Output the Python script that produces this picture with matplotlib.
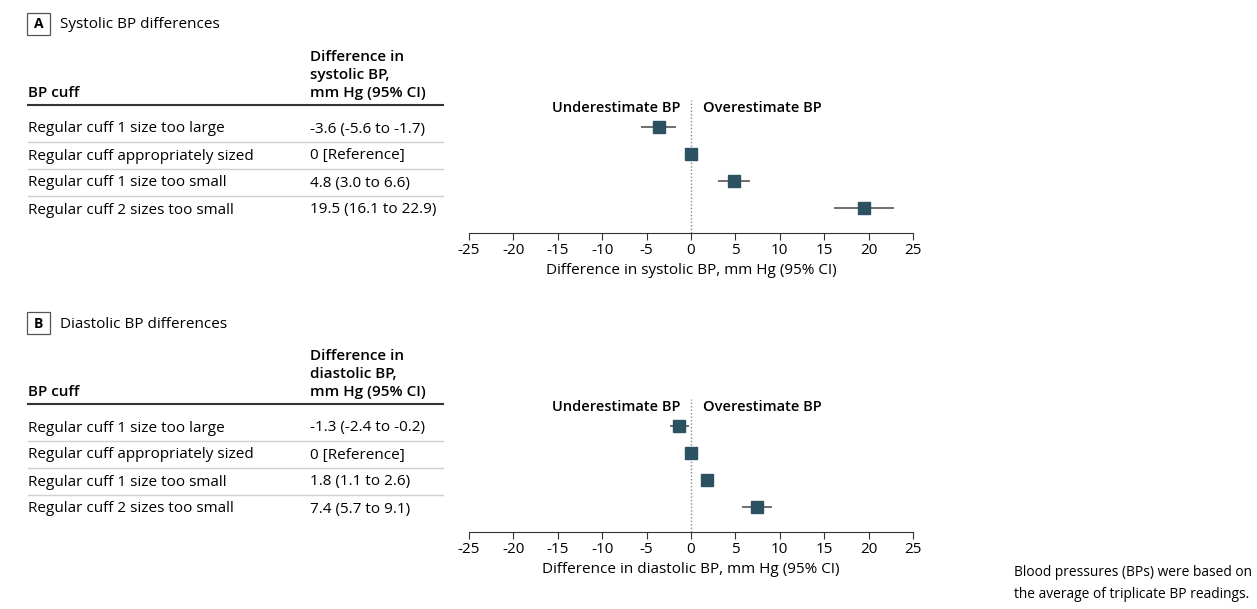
import matplotlib
matplotlib.use("Agg")
import matplotlib.pyplot as plt
from matplotlib.patches import Rectangle

plt.rcParams['font.family'] = ['Open Sans', 'DejaVu Sans']

# data
cuffs = ["Regular cuff 1 size too large", "Regular cuff appropriately sized",
         "Regular cuff 1 size too small", "Regular cuff 2 sizes too small"]
sys_est = [-3.6, 0, 4.8, 19.5]
sys_lo = [-5.6, 0, 3.0, 16.1]
sys_hi = [-1.7, 0, 6.6, 22.9]
sys_txt = ["-3.6 (-5.6 to -1.7)", "0 [Reference]", "4.8 (3.0 to 6.6)", "19.5 (16.1 to 22.9)"]
dia_est = [-1.3, 0, 1.8, 7.4]
dia_lo = [-2.4, 0, 1.1, 5.7]
dia_hi = [-0.2, 0, 2.6, 9.1]
dia_txt = ["-1.3 (-2.4 to -0.2)", "0 [Reference]", "1.8 (1.1 to 2.6)", "7.4 (5.7 to 9.1)"]
xticks = [-25, -20, -15, -10, -5, 0, 5, 10, 15, 20, 25]

W, H = 1257, 609
fig = plt.figure(figsize=(W / 100, H / 100), dpi=100)

def fx(px):
    return px / W

def fy(py):
    return 1 - py / H

marker_col = '#2c5262'
fs = 11

def panel(off, letter, title, kind, est, lo, hi, txt):
    # panel letter box and title
    fig.patches.append(Rectangle((fx(27), fy(off + 35)), 23 / W, 22 / H, transform=fig.transFigure,
                                 facecolor='none', edgecolor='#555555', lw=0.9))
    fig.text(fx(38.5), fy(off + 24.5), letter, ha='center', va='center', fontsize=10, fontweight='bold')
    fig.text(fx(60), fy(off + 25), title, ha='left', va='center', fontsize=11)

    # table headers
    fig.text(fx(310), fy(off + 97), "Difference in\n" + kind + " BP,\nmm Hg (95% CI)",
             ha='left', va='baseline', fontsize=11, fontweight='semibold', linespacing=1.38)
    fig.text(fx(28), fy(off + 97), "BP cuff", ha='left', va='baseline', fontsize=11, fontweight='semibold')
    fig.add_artist(plt.Line2D([fx(28), fx(443)], [fy(off + 105)] * 2, color='#333333', lw=1.5))
    for i in range(len(cuffs)):
        yy = off + 129 + i * 27
        fig.text(fx(28), fy(yy), cuffs[i], ha='left', va='center', fontsize=fs)
        fig.text(fx(310), fy(yy), txt[i], ha='left', va='center', fontsize=fs)
        if i < len(cuffs) - 1:
            fig.add_artist(plt.Line2D([fx(28), fx(443)], [fy(yy + 12.5)] * 2, color='#d0d0d0', lw=1))

    # forest plot
    ax = fig.add_axes([fx(469), fy(off + 233), (913 - 469) / W, 133 / H])
    ypos = list(range(1, len(est) + 1))
    xerr = [[e - l for e, l in zip(est, lo)], [h - e for e, h in zip(est, hi)]]
    ax.errorbar(est, ypos, xerr=xerr, fmt='s', color=marker_col, ecolor='#555555',
                elinewidth=1.2, markersize=8.5, capsize=0, zorder=3)
    ax.axvline(0, color='#888888', lw=1, ls=(0, (1, 1.5)), zorder=1)
    ax.set_xlim(-25, 25)
    ax.set_ylim(4.93, 0)
    ax.set_yticks([])
    ax.set_xticks(xticks)
    ax.set_xticklabels([str(t) for t in xticks], fontsize=fs)
    for s in ['top', 'right', 'left']:
        ax.spines[s].set_visible(False)
    ax.spines['bottom'].set_color('#333333')
    ax.tick_params(axis='x', length=5, color='#333333', pad=2)
    ax.set_xlabel("Difference in " + kind + " BP, mm Hg (95% CI)", fontsize=fs, labelpad=4)
    ax.patch.set_alpha(0)
    ax.text(-1.2, 0.3, "Underestimate BP", ha='right', va='center', fontsize=10.5, fontweight='semibold')
    ax.text(1.4, 0.3, "Overestimate BP", ha='left', va='center', fontsize=10.5, fontweight='semibold')

panel(0, "A", "Systolic BP differences", "systolic", sys_est, sys_lo, sys_hi, sys_txt)
panel(299, "B", "Diastolic BP differences", "diastolic", dia_est, dia_lo, dia_hi, dia_txt)

fig.text(fx(1014), fy(572), "Blood pressures (BPs) were based on", ha='left', va='center', fontsize=9.9)
fig.text(fx(1014), fy(595), "the average of triplicate BP readings.", ha='left', va='center', fontsize=9.9)

fig.savefig("out.png", dpi=100)
